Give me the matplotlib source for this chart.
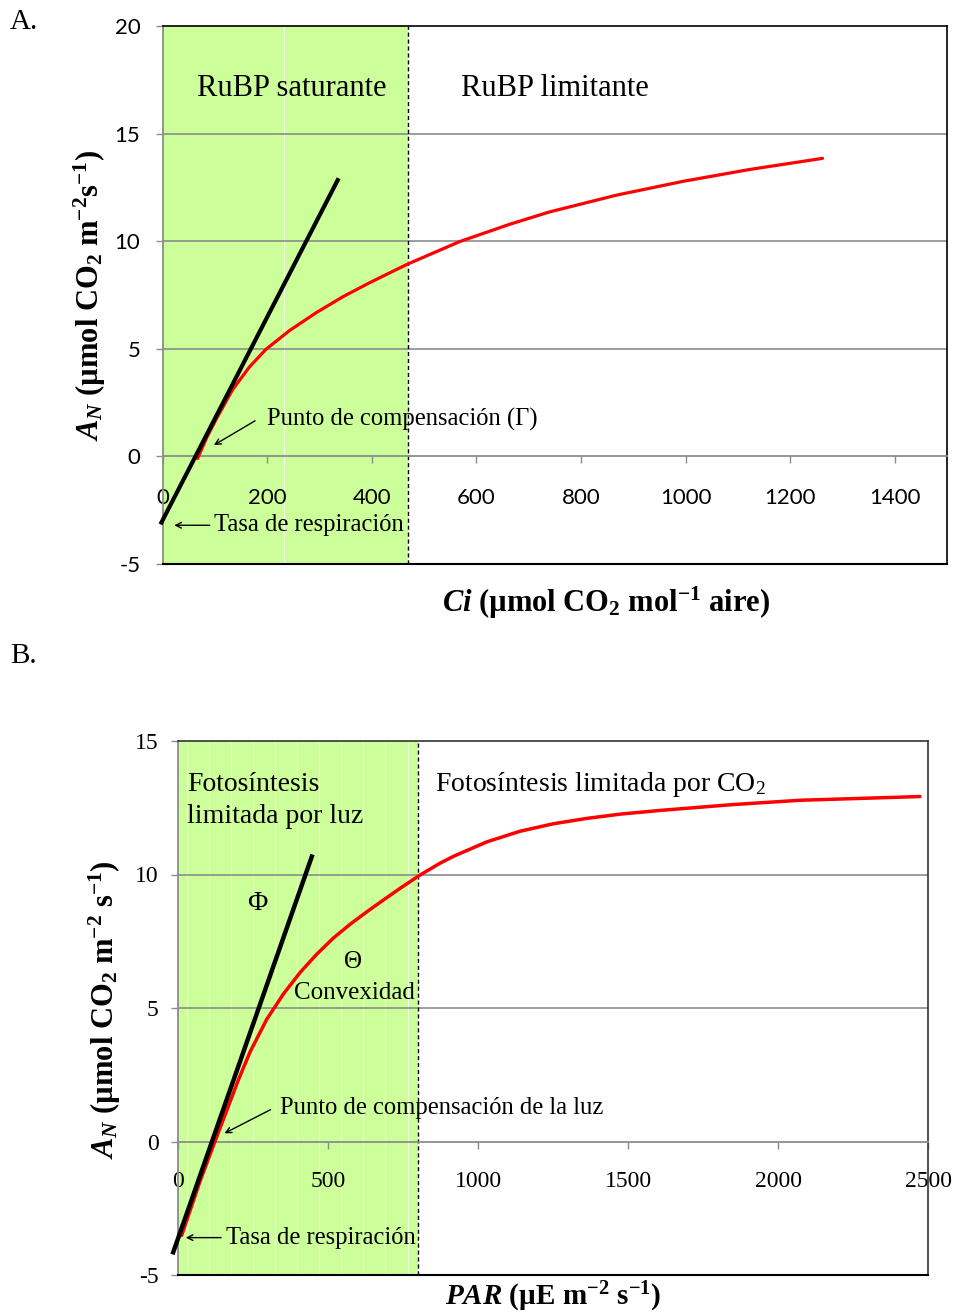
import matplotlib
matplotlib.use("Agg")
import matplotlib.pyplot as plt
import numpy as np

plt.rcParams['font.family'] = ['Liberation Serif', 'DejaVu Serif']
plt.rcParams['mathtext.fontset'] = 'custom'
plt.rcParams['mathtext.rm'] = 'Liberation Serif'
plt.rcParams['mathtext.it'] = 'Liberation Serif:italic:bold'
plt.rcParams['mathtext.bf'] = 'Liberation Serif:bold'
plt.rcParams['axes.unicode_minus'] = False

# ---------------- data (panel A) ----------------
ci_curve = [67, 85, 103, 134, 166, 198, 243, 294, 345, 396, 447, 469, 568, 663, 740, 868, 995, 1122, 1262]
an_ci_curve = [-0.1, 0.9, 1.75, 3.1, 4.15, 4.98, 5.85, 6.68, 7.42, 8.07, 8.68, 8.94, 9.98, 10.78, 11.36,
               12.14, 12.78, 13.33, 13.85]
ci_tangent = [-2, 335]
an_ci_tangent = [-3.07, 12.84]
ci_limit = 470
xticks_a = [0, 200, 400, 600, 800, 1000, 1200, 1400]
yticks_a = [-5, 0, 5, 10, 15, 20]

# ---------------- data (panel B) ----------------
par_curve = [12, 73, 123, 179, 201, 240, 296, 351, 407, 462, 518, 573, 629, 684, 740, 804, 873, 918, 1029,
             1140, 1251, 1362, 1473, 1607, 1851, 2073, 2473]
an_par_curve = [-3.52, -1.5, 0.0, 1.65, 2.3, 3.35, 4.58, 5.52, 6.33, 7.01, 7.62, 8.13, 8.6, 9.04, 9.48, 9.96,
                10.42, 10.68, 11.22, 11.62, 11.9, 12.1, 12.26, 12.4, 12.62, 12.78, 12.92]
par_tangent = [-16, 446]
an_par_tangent = [-4.15, 10.67]
par_limit = 800
xticks_b = [0, 500, 1000, 1500, 2000, 2500]
yticks_b = [-5, 0, 5, 10, 15]

W, H = 957, 1315
fig = plt.figure(figsize=(W / 100, H / 100), dpi=100)


def box(l, t, r, b):
    return [l / W, 1 - b / H, (r - l) / W, (b - t) / H]


def fx(px):
    return px / W


def fy(py):
    return 1 - py / H


GREEN = '#CCFF99'
GRID = '#8c8c8c'

# ======================= Panel A =======================
axA = fig.add_axes(box(162.5, 26, 947, 564))
axA.set_xlim(0, 1500)
axA.set_ylim(-5, 20)
axA.axvspan(0, ci_limit, color=GREEN, zorder=0, lw=0)
axA.axvline(233, color='white', lw=0.8, alpha=0.8, zorder=0.5)
axA.axvline(ci_limit, color='black', lw=1.0, ls=(0, (3, 2)), zorder=2)
for yv in [5, 10, 15]:
    axA.axhline(yv, color=GRID, lw=1.2, zorder=1)
axA.axhline(-5, color='black', lw=1.5, zorder=3, clip_on=False)

axA.plot(ci_curve, an_ci_curve, color='red', lw=2.3, zorder=4, solid_capstyle='round', solid_joinstyle='round')
axA.plot(ci_tangent, an_ci_tangent, color='black', lw=3.0, zorder=5, clip_on=False)

axA.spines['bottom'].set_position(('data', 0))
axA.spines['bottom'].set_color(GRID)
axA.spines['bottom'].set_linewidth(1.3)
axA.spines['left'].set_color(GRID)
axA.spines['left'].set_linewidth(1.3)
axA.spines['top'].set_color('black')
axA.spines['right'].set_color('black')
axA.spines['top'].set_linewidth(1.2)
axA.spines['right'].set_linewidth(1.2)
axA.set_xticks(xticks_a)
axA.set_yticks(yticks_a)
axA.tick_params(axis='x', direction='out', length=5, width=1, color=GRID, pad=18)
axA.tick_params(axis='y', direction='out', length=5, width=1, color=GRID, pad=11)
for lab in axA.get_xticklabels() + axA.get_yticklabels():
    lab.set_fontfamily('Lato')
    lab.set_fontsize(16)

axA.text(248, 17.1, 'RuBP saturante', fontsize=22, ha='center', va='center', zorder=6)
axA.text(570, 17.1, 'RuBP limitante', fontsize=22, ha='left', va='center', zorder=6)
axA.text(199, 1.72, 'Punto de compensación (Γ)', fontsize=17.7, ha='left', va='center', zorder=6)
axA.annotate('', xy=(93.7, 0.46), xytext=(181.6, 1.72),
             arrowprops=dict(arrowstyle='->', color='black', lw=1.0), zorder=6)
axA.text(99, -3.2, 'Tasa de respiración', fontsize=17.7, ha='left', va='center', zorder=6)
axA.annotate('', xy=(17.2, -3.2), xytext=(95.6, -3.2),
             arrowprops=dict(arrowstyle='->', color='black', lw=1.0), zorder=6)

fig.text(fx(10), fy(22), 'A.', fontsize=21, ha='left', va='center')
fig.text(fx(90), fy(295), r'$A_N$ (µmol CO$_\mathbf{2}$ m$^\mathbf{-2}$s$^\mathbf{-1}$)',
         fontsize=22, fontweight='bold', rotation=90, ha='center', va='center')
fig.text(fx(606), fy(603), r'$Ci$ (µmol CO$_\mathbf{2}$ mol$^\mathbf{-1}$ aire)',
         fontsize=22, fontweight='bold', ha='center', va='center')

# ======================= Panel B =======================
axB = fig.add_axes(box(178, 741, 928, 1275))
axB.set_xlim(0, 2500)
axB.set_ylim(-5, 15)
axB.axvspan(0, par_limit, color=GREEN, zorder=0, lw=0)
for xv in np.arange(30, par_limit, 73.5):
    axB.axvline(xv, color='white', lw=0.8, alpha=0.75, zorder=0.5)
axB.axvline(par_limit, color='black', lw=1.0, ls=(0, (3, 2)), zorder=2)
for yv in [5, 10]:
    axB.axhline(yv, color=GRID, lw=1.2, zorder=1)
axB.axhline(-5, color='black', lw=1.5, zorder=3, clip_on=False)

axB.plot(par_curve, an_par_curve, color='red', lw=2.5, zorder=4, solid_capstyle='round', solid_joinstyle='round')
axB.plot(par_tangent, an_par_tangent, color='black', lw=3.2, zorder=5, clip_on=False)

axB.spines['bottom'].set_position(('data', 0))
axB.spines['bottom'].set_color(GRID)
axB.spines['bottom'].set_linewidth(1.3)
axB.spines['left'].set_color(GRID)
axB.spines['left'].set_linewidth(1.3)
axB.spines['top'].set_color('#333333')
axB.spines['right'].set_color('#333333')
axB.spines['top'].set_linewidth(1.2)
axB.spines['right'].set_linewidth(1.2)
axB.set_xticks(xticks_b)
axB.set_yticks(yticks_b)
axB.tick_params(axis='x', direction='out', length=5, width=1, color=GRID, pad=16)
axB.tick_params(axis='y', direction='out', length=5, width=1, color=GRID, pad=9)
for lab in axB.get_xticklabels() + axB.get_yticklabels():
    lab.set_fontsize(17)

axB.text(30, 13.37, 'Fotosíntesis', fontsize=20, ha='left', va='center', zorder=6)
axB.text(30, 12.17, 'limitada por luz', fontsize=20, ha='left', va='center', zorder=6)
axB.text(857, 13.37, r'Fotosíntesis limitada por CO$_2$', fontsize=20, ha='left', va='center', zorder=6)
axB.text(263, 8.91, 'Φ', fontsize=20, ha='center', va='center', zorder=6)
axB.text(583, 6.74, 'Θ', fontsize=18, ha='center', va='center', zorder=6)
axB.text(387, 5.58, 'Convexidad', fontsize=18, ha='left', va='center', zorder=6)
axB.text(340, 1.24, 'Punto de compensación de la luz', fontsize=17.7, ha='left', va='center', zorder=6)
axB.annotate('', xy=(146.7, 0.26), xytext=(316.7, 1.24),
             arrowprops=dict(arrowstyle='->', color='black', lw=1.0), zorder=6)
axB.text(160, -3.6, 'Tasa de respiración', fontsize=17.7, ha='left', va='center', zorder=6)
axB.annotate('', xy=(16.7, -3.6), xytext=(153, -3.6),
             arrowprops=dict(arrowstyle='->', color='black', lw=1.0), zorder=6)

fig.text(fx(10), fy(656), 'B.', fontsize=21, ha='left', va='center')
fig.text(fx(105), fy(1010), r'$A_N$ (µmol CO$_\mathbf{2}$ m$^\mathbf{-2}$ s$^\mathbf{-1}$)',
         fontsize=22, fontweight='bold', rotation=90, ha='center', va='center')
fig.text(fx(553), fy(1297), r'$PAR$ (µE m$^\mathbf{-2}$ s$^\mathbf{-1}$)',
         fontsize=21, fontweight='bold', ha='center', va='center')

fig.savefig('out.png', dpi=100)
